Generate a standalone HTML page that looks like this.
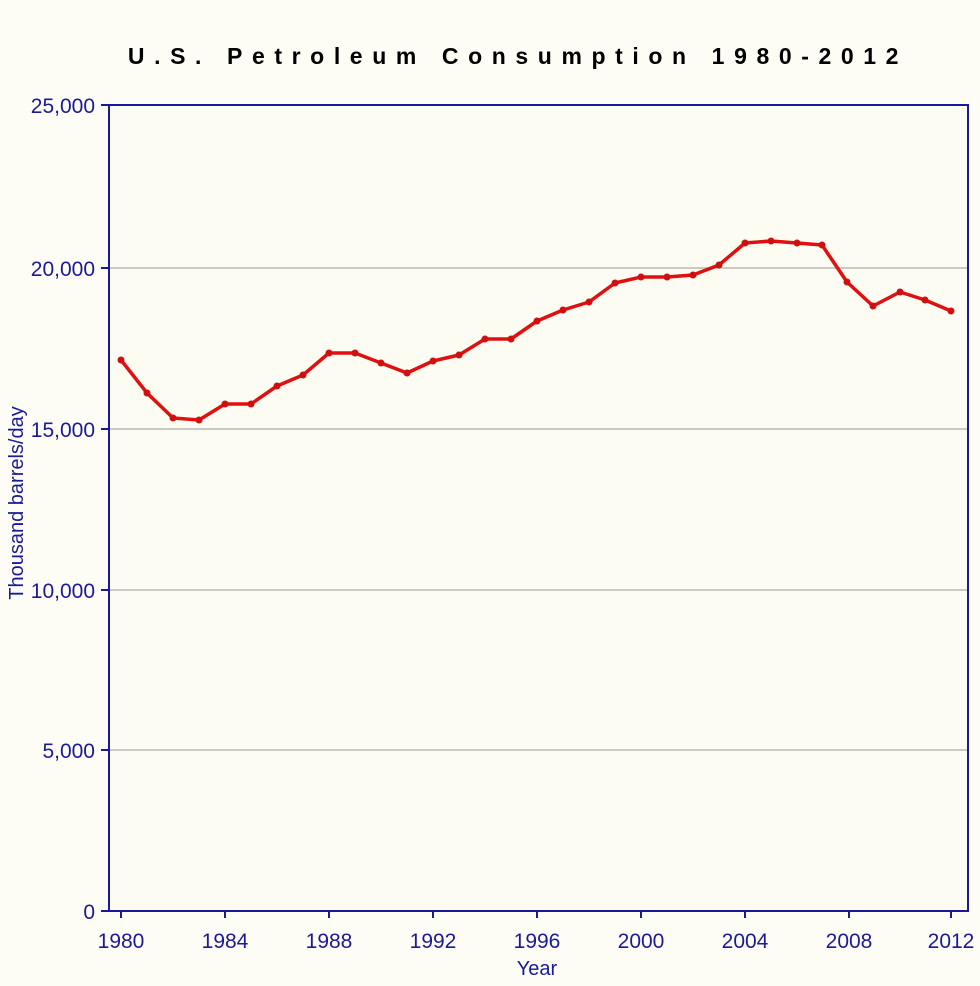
<!DOCTYPE html>
<html><head><style>body{margin:0;background:#fdfdf5}</style></head><body>
<svg width="980" height="986" xmlns="http://www.w3.org/2000/svg" style="display:block">
<rect width="980" height="986" fill="#fdfdf5"/>
<text x="518" y="64" text-anchor="middle" font-family="Liberation Sans, sans-serif" font-weight="bold" font-size="23" letter-spacing="9.6" fill="#000">U.S. Petroleum Consumption 1980-2012</text>
<rect x="109" y="105" width="859" height="806" fill="#fcfcf2"/>
<g stroke="#b8b8b8" stroke-width="1.5">
<line x1="110" x2="967" y1="268" y2="268"/><line x1="110" x2="967" y1="429" y2="429"/>
<line x1="110" x2="967" y1="590" y2="590"/><line x1="110" x2="967" y1="750" y2="750"/>
</g>
<g stroke="#1a1a99" stroke-width="2" fill="none">
<rect x="109" y="105" width="859" height="806"/>
<line x1="101" x2="109" y1="105" y2="105"/><line x1="101" x2="109" y1="268" y2="268"/>
<line x1="101" x2="109" y1="429" y2="429"/><line x1="101" x2="109" y1="590" y2="590"/>
<line x1="101" x2="109" y1="750" y2="750"/><line x1="101" x2="109" y1="911" y2="911"/>
<line x1="121" x2="121" y1="911" y2="918"/><line x1="225" x2="225" y1="911" y2="918"/>
<line x1="329" x2="329" y1="911" y2="918"/><line x1="433" x2="433" y1="911" y2="918"/>
<line x1="537" x2="537" y1="911" y2="918"/><line x1="641" x2="641" y1="911" y2="918"/>
<line x1="745" x2="745" y1="911" y2="918"/><line x1="849" x2="849" y1="911" y2="918"/>
<line x1="951" x2="951" y1="911" y2="918"/>
</g>
<g font-family="Liberation Sans, sans-serif" font-size="21" fill="#1a1a99">
<g text-anchor="end">
<text x="95" y="113">25,000</text><text x="95" y="276">20,000</text><text x="95" y="437">15,000</text>
<text x="95" y="598">10,000</text><text x="95" y="758">5,000</text><text x="95" y="919">0</text>
</g>
<g text-anchor="middle">
<text x="121" y="948">1980</text><text x="225" y="948">1984</text><text x="329" y="948">1988</text>
<text x="433" y="948">1992</text><text x="537" y="948">1996</text><text x="641" y="948">2000</text>
<text x="745" y="948">2004</text><text x="849" y="948">2008</text><text x="951" y="948">2012</text>
<text x="537" y="975" font-size="20">Year</text>
</g>
<text transform="translate(23,503) rotate(-90)" text-anchor="middle" font-size="20">Thousand barrels/day</text>
</g>
<polyline fill="none" stroke="#e01010" stroke-width="3.5" stroke-linejoin="round" points="121,360 147,393 173,418 199,420 225,404 251,404 277,386 303,375 329,353 355,353 381,363 407,373 433,361 459,355 485,339 511,339 537,321 563,310 589,302 615,283 641,277 667,277 693,275 719,265 745,243 771,241 797,243 822,245 847,282 873,306 900,292 925,300 951,311"/>
<g fill="#d01010">
<circle cx="121" cy="360" r="3.5"/><circle cx="147" cy="393" r="3.5"/><circle cx="173" cy="418" r="3.5"/><circle cx="199" cy="420" r="3.5"/><circle cx="225" cy="404" r="3.5"/><circle cx="251" cy="404" r="3.5"/><circle cx="277" cy="386" r="3.5"/><circle cx="303" cy="375" r="3.5"/><circle cx="329" cy="353" r="3.5"/><circle cx="355" cy="353" r="3.5"/><circle cx="381" cy="363" r="3.5"/><circle cx="407" cy="373" r="3.5"/><circle cx="433" cy="361" r="3.5"/><circle cx="459" cy="355" r="3.5"/><circle cx="485" cy="339" r="3.5"/><circle cx="511" cy="339" r="3.5"/><circle cx="537" cy="321" r="3.5"/><circle cx="563" cy="310" r="3.5"/><circle cx="589" cy="302" r="3.5"/><circle cx="615" cy="283" r="3.5"/><circle cx="641" cy="277" r="3.5"/><circle cx="667" cy="277" r="3.5"/><circle cx="693" cy="275" r="3.5"/><circle cx="719" cy="265" r="3.5"/><circle cx="745" cy="243" r="3.5"/><circle cx="771" cy="241" r="3.5"/><circle cx="797" cy="243" r="3.5"/><circle cx="822" cy="245" r="3.5"/><circle cx="847" cy="282" r="3.5"/><circle cx="873" cy="306" r="3.5"/><circle cx="900" cy="292" r="3.5"/><circle cx="925" cy="300" r="3.5"/><circle cx="951" cy="311" r="3.5"/>
</g>
</svg>
</body></html>
